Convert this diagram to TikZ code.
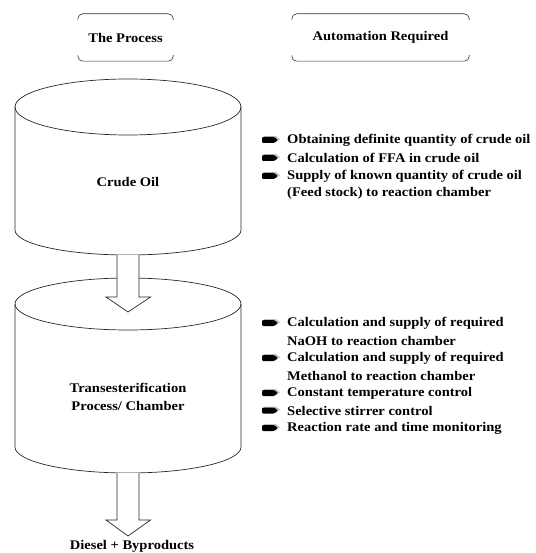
\documentclass[tikz,border=0pt]{standalone}
\usepackage{fontspec}
\setmainfont{Liberation Serif}[FakeStretch=1.1]
\usetikzlibrary{positioning}

\tikzset{
  txt/.style={font=\fontsize{13.2}{17.5}\selectfont\bfseries, inner sep=0pt},
  item/.style={txt, anchor=west},
  bracket/.style={draw=black!80, line width=0.6pt, rounded corners=5pt},
  vessel/.style={draw=black!85, line width=0.7pt},
  blockarrow/.style={draw=black!85, line width=0.7pt, fill=white},
  pics/bul/.style={code={
    \fill[black!25] (2,2.2) -- (14,2.2) -- (18,-0.8) -- (14,-3.8) -- (2,-3.8) -- cycle;
    \fill[black, rounded corners=1pt] (0,-3) -- (12,-3) -- (16,0) -- (12,3) -- (0,3) -- cycle;
  }}
}

\begin{document}
\begin{tikzpicture}[x=1pt, y=-1pt]
  \useasboundingbox (0,0) rectangle (535,553);
  % Column headers
  \node[txt, minimum width=95, minimum height=47] (hproc) at (125.5,37.5) {The Process};
  \node[txt, minimum width=177, minimum height=47] (hauto) at (380.5,37.5) {Automation Required};
  \foreach \h in {hproc, hauto} {
    \draw[bracket] ([yshift=-6pt]\h.north west) |- (\h.north) -| ([yshift=-6pt]\h.north east);
    \draw[bracket] ([yshift=6pt]\h.south west) |- (\h.south) -| ([yshift=6pt]\h.south east);
  }
  % Crude oil vessel
  \draw[vessel] (15,107) -- (15,230) arc[start angle=180, end angle=0, x radius=113, y radius=25] -- (241,107);
  \draw[vessel] (128,107) ellipse[x radius=113, y radius=28];
  \node[txt] (oil) at (128,182) {Crude Oil};
  \coordinate (oilout) at (128,255);
  % Transesterification vessel
  \draw[vessel] (15,304) -- (15,447) arc[start angle=180, end angle=0, x radius=113, y radius=26] -- (241,304);
  \draw[vessel] (128,304) ellipse[x radius=113, y radius=26];
  \node[txt, align=center] (chamber) at (128,397) {Transesterification\\Process/ Chamber};
  \coordinate (chamberin) at (128,312);
  \coordinate (chamberout) at (128,473);
  % Product
  \node[txt] (product) at (132,546) {Diesel + Byproducts};
  \coordinate (productin) at (128,536);
  % Block arrows
  \draw[blockarrow] ([xshift=-11pt]oilout) -- ++(0,42) -- ++(-11,0) -- (chamberin)
    -- ++(22.5,-15) -- ++(-11.5,0) -- ([xshift=11pt]oilout);
  \draw[blockarrow] ([xshift=-11pt]chamberout) -- ++(0,47) -- ++(-11,0) -- (productin)
    -- ++(22.5,-16) -- ++(-11.5,0) -- ([xshift=11pt]chamberout);
  % Automation for crude oil
  \node[item] (a1) at (287,140) {Obtaining definite quantity of crude oil};
  \node[item] (a2) at (287,158) {Calculation of FFA in crude oil};
  \node[item] (a3) at (287,176) {Supply of known quantity of crude oil};
  \node[item] (a3b) at (287,193.5) {(Feed stock) to reaction chamber};
  % Automation for the chamber
  \node[item] (b1) at (287,323) {Calculation and supply of required};
  \node[item] (b1b) at (287,341) {NaOH to reaction chamber};
  \node[item] (b2) at (287,358) {Calculation and supply of required};
  \node[item] (b2b) at (287,376) {Methanol to reaction chamber};
  \node[item] (b3) at (287,393) {Constant temperature control};
  \node[item] (b4) at (287,410.5) {Selective stirrer control};
  \node[item] (b5) at (287,428) {Reaction rate and time monitoring};
  \foreach \n in {a1, a2, a3, b1, b2, b3, b4, b5}
    \pic at ([xshift=-25pt]\n.west) {bul};
\end{tikzpicture}
\end{document}
